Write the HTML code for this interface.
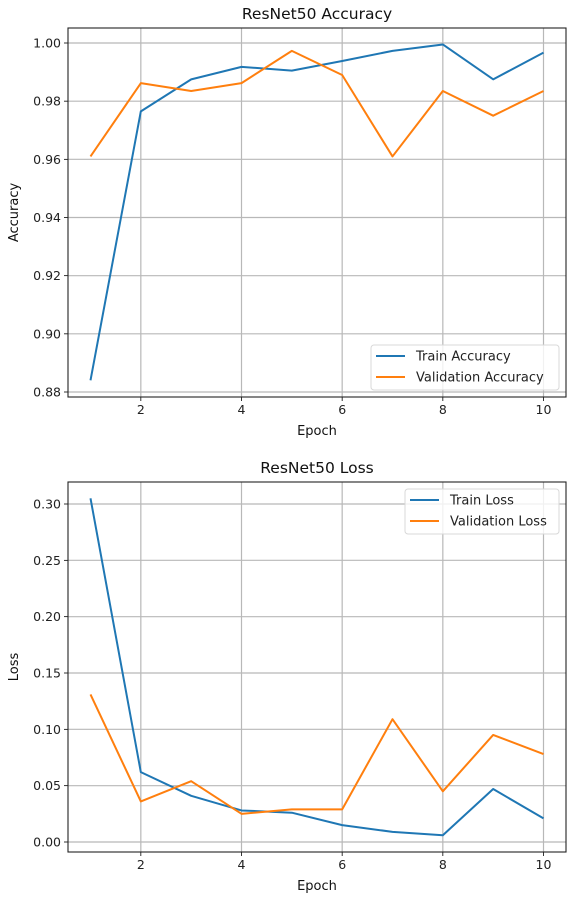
<!DOCTYPE html>
<html><head><meta charset="utf-8"><style>
html,body{margin:0;padding:0;background:#fff;}
svg{display:block;font-family:"DejaVu Sans","Liberation Sans",sans-serif;}
</style></head><body>
<svg id="c" width="574" height="899"></svg>
<script>
const epochs=[1,2,3,4,5,6,7,8,9,10];
const trainAcc=[0.884,0.9765,0.9875,0.9918,0.9905,0.9938,0.9973,0.9995,0.9875,0.9967];
const valAcc=[0.961,0.9862,0.9835,0.9862,0.9973,0.989,0.961,0.9835,0.975,0.9835];
const trainLoss=[0.305,0.062,0.041,0.028,0.026,0.015,0.009,0.006,0.047,0.021];
const valLoss=[0.131,0.036,0.054,0.025,0.029,0.029,0.109,0.045,0.095,0.078];
const xTicks=[2,4,6,8,10];
const accTicks=[0.88,0.90,0.92,0.94,0.96,0.98,1.00];
const lossTicks=[0,0.05,0.10,0.15,0.20,0.25,0.30];
const NS="http://www.w3.org/2000/svg";
const svg=document.getElementById('c');
function mk(tag,attrs,parent){const e=document.createElementNS(NS,tag);for(const k in attrs)e.setAttribute(k,attrs[k]);(parent||svg).appendChild(e);return e;}
function chart(o){
  const g=mk('g',{});
  
  
  const L=68,R=566,T=o.top,B=o.bottom;
  const xs=v=>90.5+(v-1)*(543.5-90.5)/9;
  const ys=v=>o.y0px+(v-o.v0)*(o.y1px-o.y0px)/(o.v1-o.v0);
  xTicks.forEach(t=>{
    const l=mk('line',{x1:xs(t),x2:xs(t),y1:T,y2:B,stroke:'#b8b8b8','stroke-width':1.2},g);
    
    mk('line',{x1:xs(t),x2:xs(t),y1:B,y2:B+4,stroke:'#000','stroke-width':0.8},g);
    const tx=mk('text',{x:xs(t),y:B+17,'text-anchor':'middle','font-size':12.5,fill:'#222'},g);
    tx.textContent=t;
    
  });
  o.ticks.forEach(t=>{
    const l=mk('line',{x1:L,x2:R,y1:ys(t),y2:ys(t),stroke:'#b8b8b8','stroke-width':1.2},g);
    
    mk('line',{x1:L-4,x2:L,y1:ys(t),y2:ys(t),stroke:'#000','stroke-width':0.8},g);
    const tx=mk('text',{x:L-7,y:ys(t)+4.5,'text-anchor':'end','font-size':12.5,fill:'#222'},g);
    tx.textContent=t.toFixed(2);
    
  });
  const series=[[o.s1,'#1f77b4',o.l1],[o.s2,'#ff7f0e',o.l2]];
  series.forEach(([d,c,n])=>{
    const p=mk('polyline',{points:d.map((v,i)=>xs(epochs[i])+','+ys(v)).join(' '),fill:'none',stroke:c,'stroke-width':2,'stroke-linejoin':'round'},g);
    
    
  });
  const fr=mk('rect',{x:L,y:T,width:R-L,height:B-T,fill:'none',stroke:'#222','stroke-width':1.1},g);
  
  const ti=mk('text',{x:(L+R)/2,y:T-9,'text-anchor':'middle','font-size':15.5,fill:'#111'},g);
  ti.textContent=o.title;
  const xl=mk('text',{x:(L+R)/2,y:B+38,'text-anchor':'middle','font-size':13,fill:'#111'},g);
  xl.textContent='Epoch';
  const yl=mk('text',{x:0,y:0,'text-anchor':'middle','font-size':13,fill:'#111',transform:`translate(18,${(T+B)/2}) rotate(-90)`},g);
  yl.textContent=o.ylabel;
  const lg=mk('g',{},g);
  
  mk('rect',{x:o.lx,y:o.ly,width:559-o.lx,height:45,rx:3,fill:'#fff','fill-opacity':0.8,stroke:'#d8d8d8'},lg);
  series.forEach(([d,c,n],i)=>{
    const yy=o.ly+11+i*21;
    mk('line',{x1:o.lx+5,x2:o.lx+34,y1:yy,y2:yy,stroke:c,'stroke-width':2},lg);
    const t=mk('text',{x:o.lx+45,y:yy+4.5,'font-size':13,fill:'#222'},lg);
    t.textContent=n;
  });
}
chart({name:'accuracy-chart',title:'ResNet50 Accuracy',ylabel:'Accuracy',top:28,bottom:397,v0:1.0,v1:0.88,y0px:43,y1px:392,ticks:accTicks,s1:trainAcc,s2:valAcc,l1:'Train Accuracy',l2:'Validation Accuracy',lx:371,ly:345});
chart({name:'loss-chart',title:'ResNet50 Loss',ylabel:'Loss',top:482,bottom:852,v0:0.30,v1:0,y0px:504,y1px:842,ticks:lossTicks,s1:trainLoss,s2:valLoss,l1:'Train Loss',l2:'Validation Loss',lx:405,ly:489});
</script>
</body></html>
